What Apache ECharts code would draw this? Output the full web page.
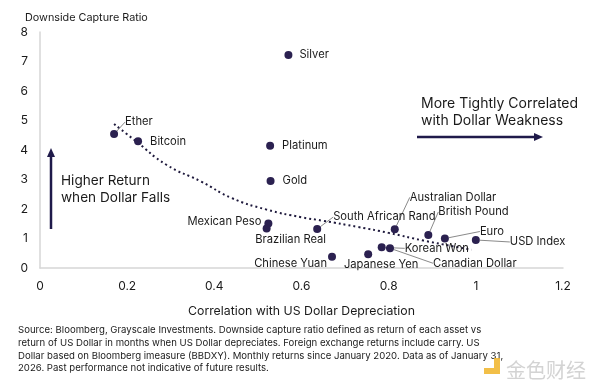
<!DOCTYPE html>
<html>
<head>
<meta charset="utf-8">
<script src="https://cdn.jsdelivr.net/npm/echarts@6/dist/echarts.min.js"></script>
<style>
html,body{margin:0;padding:0;background:#fff;}
#c{width:600px;height:386px;}
</style>
</head>
<body>
<div id="c"></div>
<script>
// ---- data ----
var assetNames = ['Ether','Bitcoin','Silver','Platinum','Gold','Mexican Peso','Brazilian Real','South African Rand','Chinese Yuan','Japanese Yen','Korean Won','Canadian Dollar','Australian Dollar','British Pound','Euro','USD Index'];
var correlation = [0.17,0.225,0.57,0.528,0.529,0.524,0.52,0.636,0.67,0.753,0.784,0.803,0.814,0.891,0.929,1.0];
var downsideCapture = [4.54,4.30,7.22,4.14,2.95,1.51,1.34,1.32,0.38,0.47,0.70,0.67,1.31,1.12,1.00,0.95];
var trendX = [0.17,0.22,0.29,0.37,0.44,0.52,0.60,0.65,0.73,0.80,0.88,0.99];
var trendY = [4.88,4.30,3.50,2.93,2.37,1.98,1.72,1.60,1.39,1.19,0.93,0.62];
var xTicks = [0,0.2,0.4,0.6,0.8,1,1.2];
var yTicks = [0,1,2,3,4,5,6,7,8];

// ---- label styling (per asset) ----
var labelStyle = {
  'Ether': {position:'right', distance:5, layout:{dx:2, dy:-12}, line:true},
  'Bitcoin': {position:'right', distance:8},
  'Silver': {position:'right', distance:7},
  'Platinum': {position:'right', distance:8},
  'Gold': {position:'right', distance:8},
  'Mexican Peso': {position:'left', distance:3, layout:{dx:0, dy:-2}},
  'Brazilian Real': {position:'bottom', distance:2, layout:{dx:24, dy:0}},
  'Chinese Yuan': {position:'left', distance:3, layout:{dx:2, dy:7}},
  'Japanese Yen': {position:'bottom', distance:1, layout:{dx:13, dy:0}},
  'Korean Won': {position:'right', distance:5, layout:{dx:14, dy:1}, line:true},
  'Canadian Dollar': {position:'right', distance:5, layout:{dx:34, dy:15}, line:true},
  'Australian Dollar': {position:'right', distance:5, layout:{dx:6, dy:-32}, line:true},
  'South African Rand': {position:'right', distance:5, layout:{dx:7, dy:-12}, line:true},
  'British Pound': {position:'right', distance:5, layout:{dx:1, dy:-23}, line:true},
  'Euro': {position:'right', distance:5, layout:{dx:26, dy:-7}, line:true},
  'USD Index': {position:'right', distance:5, layout:{dx:25, dy:2}, line:true}
};

var FONT = 'Inter';
var INK = '#1a1a1a';
var DOT = '#2b2150';

var scatterData = assetNames.map(function(n, i){
  var s = labelStyle[n] || {};
  return {
    name: n,
    value: [correlation[i], downsideCapture[i]],
    label: {show:true, position:s.position||'right', distance:s.distance||5},
    labelLine: {show: !!s.line, lineStyle:{color:'#8a8a8a', width:1}}
  };
});

var trendData = trendX.map(function(x,i){ return [x, trendY[i]]; });

var chart = echarts.init(document.getElementById('c'), null, {renderer:'canvas'});
chart.setOption({
  animation:false,
  backgroundColor:'#fff',
  title:{
    text:'Downside Capture Ratio', left:20, top:7,
    textStyle:{fontFamily:FONT, fontSize:10.8, fontWeight:'normal', color:INK}
  },
  grid:{left:40, right:37, top:32, bottom:118},
  xAxis:{
    type:'value', min:xTicks[0], max:xTicks[xTicks.length-1], interval:0.2,
    name:'Correlation with US Dollar Depreciation', nameLocation:'middle', nameGap:37,
    nameTextStyle:{fontFamily:FONT, fontSize:12.3, color:INK},
    axisLine:{show:true, lineStyle:{color:'#d6d6d6', width:1.5}},
    axisTick:{show:false}, splitLine:{show:false},
    axisLabel:{fontFamily:FONT, fontSize:12, color:INK, margin:12,
      formatter:function(v){ return String(Math.round(v*10)/10); }}
  },
  yAxis:{
    type:'value', min:yTicks[0], max:yTicks[yTicks.length-1], interval:1,
    axisLine:{show:true, lineStyle:{color:'#d6d6d6', width:1.5}},
    axisTick:{show:false}, splitLine:{show:false},
    axisLabel:{fontFamily:FONT, fontSize:12, color:INK, margin:12}
  },
  series:[
    {
      type:'line', data:trendData, smooth:true, symbol:'none', silent:true,
      lineStyle:{color:'#1f1a3d', width:2, type:[2,3]}, z:1
    },
    {
      type:'scatter', data:scatterData, symbolSize:8, z:3,
      itemStyle:{color:DOT, opacity:1},
      label:{fontFamily:FONT, fontSize:11.2, color:INK, formatter:'{b}'},
      labelLayout:function(p){
        var s = labelStyle[assetNames[p.dataIndex]];
        return (s && s.layout) ? {dx:s.layout.dx, dy:s.layout.dy} : {};
      }
    }
  ],
  graphic:[
    {type:'text', left:421, top:95, style:{text:'More Tightly Correlated\nwith Dollar Weakness', font:'14px Inter', fill:INK, lineHeight:17}},
    {type:'line', shape:{x1:417, y1:137, x2:536, y2:137}, style:{stroke:'#1f1a4a', lineWidth:2.5}},
    {type:'polygon', shape:{points:[[543,137],[534,133],[534,141]]}, style:{fill:'#1f1a4a'}},
    {type:'text', left:61, top:172, style:{text:'Higher Return\nwhen Dollar Falls', font:'13.6px Inter', fill:INK, lineHeight:17}},
    {type:'line', shape:{x1:51, y1:229, x2:51, y2:156}, style:{stroke:'#1f1a4a', lineWidth:2.5}},
    {type:'polygon', shape:{points:[[51,148],[47,157],[55,157]]}, style:{fill:'#1f1a4a'}},
    {type:'text', left:18, top:324, style:{text:'Source: Bloomberg, Grayscale Investments. Downside capture ratio defined as return of each asset vs\nreturn of US Dollar in months when US Dollar depreciates. Foreign exchange returns include carry. US\nDollar based on Bloomberg imeasure (BBDXY). Monthly returns since January 2020. Data as of January 31,\n2026. Past performance not indicative of future results.', font:'9.6px Inter', fill:INK, lineHeight:12.7}},
    {type:'text', left:506, top:360, style:{text:'金色财经', font:'20px "Noto Sans CJK SC"', fill:'rgba(200,200,200,0.8)'}},
    {type:'polygon', shape:{points:[[484,374],[500,374],[500,358],[494,358],[494,368],[484,368]]}, style:{fill:'rgba(240,180,40,0.85)'}}
  ]
});
</script>
</body>
</html>
